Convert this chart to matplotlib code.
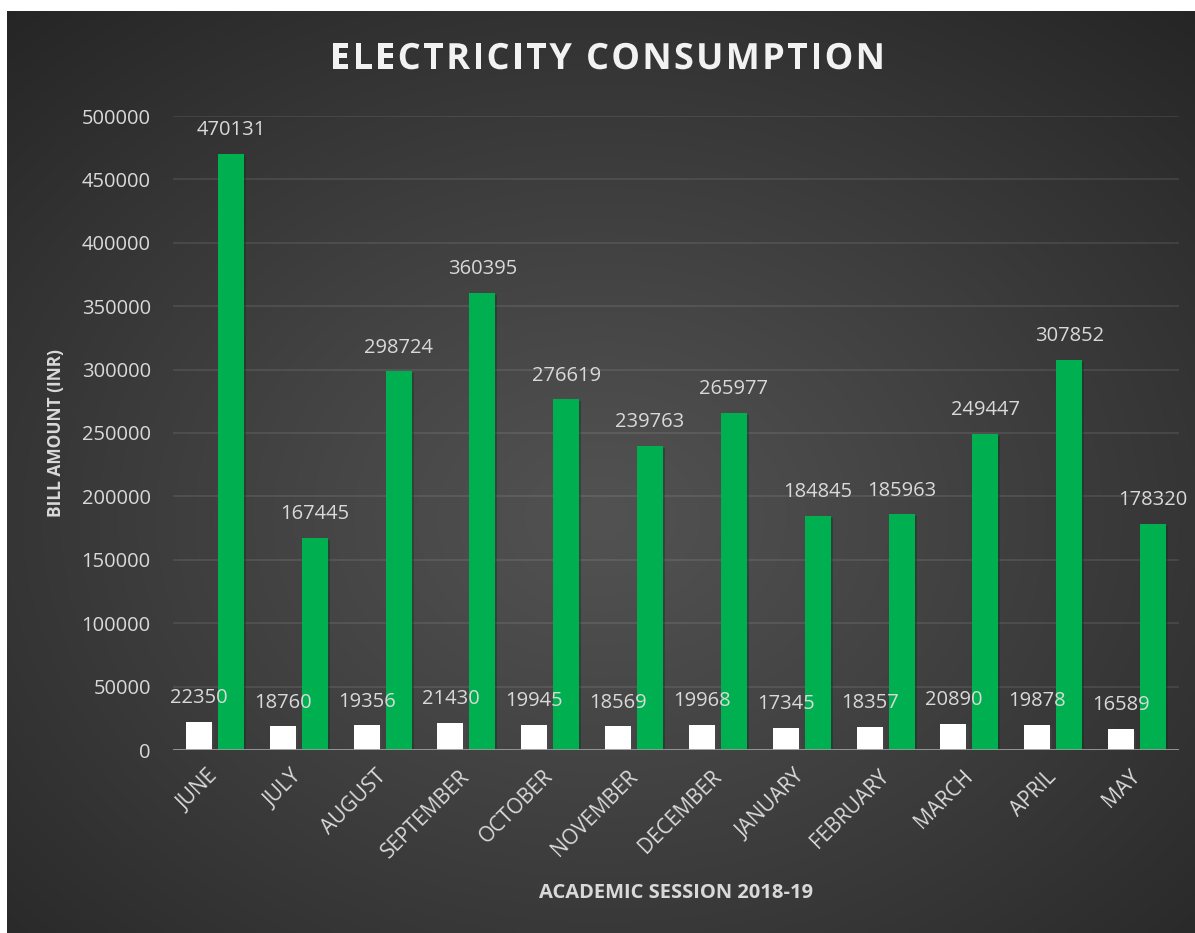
import numpy as np
import matplotlib
matplotlib.use("Agg")
import matplotlib.pyplot as plt
import matplotlib.patheffects as pe

plt.rcParams['font.family'] = ['Open Sans', 'DejaVu Sans']

months = ['JUNE', 'JULY', 'AUGUST', 'SEPTEMBER', 'OCTOBER', 'NOVEMBER',
          'DECEMBER', 'JANUARY', 'FEBRUARY', 'MARCH', 'APRIL', 'MAY']
units = [22350, 18760, 19356, 21430, 19945, 18569,
         19968, 17345, 18357, 20890, 19878, 16589]
bill = [470131, 167445, 298724, 360395, 276619, 239763,
        265977, 184845, 185963, 249447, 307852, 178320]
yticks = list(range(0, 500001, 50000))

W, H = 1195, 933
fig = plt.figure(figsize=(W / 100, H / 100), dpi=100, facecolor='white')

# dark radial gradient background
bg = fig.add_axes([7 / W, 0, 1 - 7 / W, 1 - 11 / H])
bg.set_axis_off()
yy, xx = np.mgrid[0:1:400j, 0:1:500j]
r = np.sqrt(((xx - 0.5) / 0.75) ** 2 + ((yy - 0.55) / 0.75) ** 2)
r = np.clip(r, 0, 1)
light, dark = 0x52 / 255, 0x25 / 255
img = light + (dark - light) * r ** 1.1
bg.imshow(np.dstack([img, img, img]), aspect='auto', extent=[0, 1, 0, 1],
          interpolation='bilinear')
bg.set_xlim(0, 1)
bg.set_ylim(0, 1)

ax = fig.add_axes([173 / W, 1 - 750 / H, (1179 - 173) / W, (750 - 116) / H])
ax.set_facecolor('none')

x = np.arange(len(months))
w = 0.31
off = 0.19
txt = '#d9d9d9'
shadow = [pe.SimplePatchShadow(offset=(1.5, -1.5), alpha=0.35), pe.Normal()]
b1 = ax.bar(x - off, units, w, color='white', zorder=3)
b2 = ax.bar(x + off, bill, w, color='#00b050', zorder=3)
for b in list(b1) + list(b2):
    b.set_path_effects(shadow)

for bars, vals in ((b1, units), (b2, bill)):
    for b, v in zip(bars, vals):
        ax.annotate(f'{v}', (b.get_x() + b.get_width() / 2, v),
                    xytext=(0, 17), textcoords='offset points',
                    ha='center', va='center', color=txt, fontsize=14.5, zorder=4)

ax.set_xlim(-0.5, len(months) - 0.5)
ax.set_ylim(0, 500000)
ax.set_yticks(yticks)
ax.set_yticklabels([str(t) for t in yticks])
ax.set_xticks(x)
ax.set_xticklabels(months, rotation=45, ha='right', va='center',
                   rotation_mode='anchor')
ax.tick_params(axis='y', length=0, pad=16, labelsize=14.5, labelcolor=txt)
ax.tick_params(axis='x', length=0, pad=17, labelsize=15, labelcolor=txt)
ax.grid(axis='y', color='white', alpha=0.1, lw=1.2, zorder=0)
for s in ax.spines.values():
    s.set_visible(False)
ax.axhline(0, color='#9a9a9a', lw=2, zorder=4)

ax.set_ylabel('BILL AMOUNT (INR)', fontsize=12.5, fontweight='bold',
              color=txt, labelpad=12)
fig.text(676 / W, 1 - 893 / H, 'ACADEMIC SESSION 2018-19', ha='center',
         va='center', fontsize=14.5, fontweight='bold', color=txt)

# letter-spaced title
title = 'ELECTRICITY CONSUMPTION'
fig.canvas.draw()
renderer = fig.canvas.get_renderer()
widths = []
for ch in title:
    t = fig.text(0, 0, ch if ch != ' ' else 'I', fontsize=26, fontweight='bold')
    bb = t.get_window_extent(renderer)
    widths.append(bb.width * (0.8 if ch == ' ' else 1.0))
    t.remove()
target = 885 - 330
spacing = (target - sum(widths)) / (len(title) - 1)
pos = 330
tshadow = [pe.withSimplePatchShadow(offset=(1.5, -1.5), alpha=0.5)]
for ch, wd in zip(title, widths):
    if ch != ' ':
        fig.text(pos / W, 1 - 60 / H, ch, fontsize=26, fontweight='bold',
                 color='#f2f2f2', ha='left', va='center',
                 path_effects=[pe.SimpleLineShadow(offset=(1.5, -1.5), alpha=0.5),
                               pe.Normal()])
    pos += wd + spacing

fig.savefig('out.png', dpi=100, facecolor='white')
